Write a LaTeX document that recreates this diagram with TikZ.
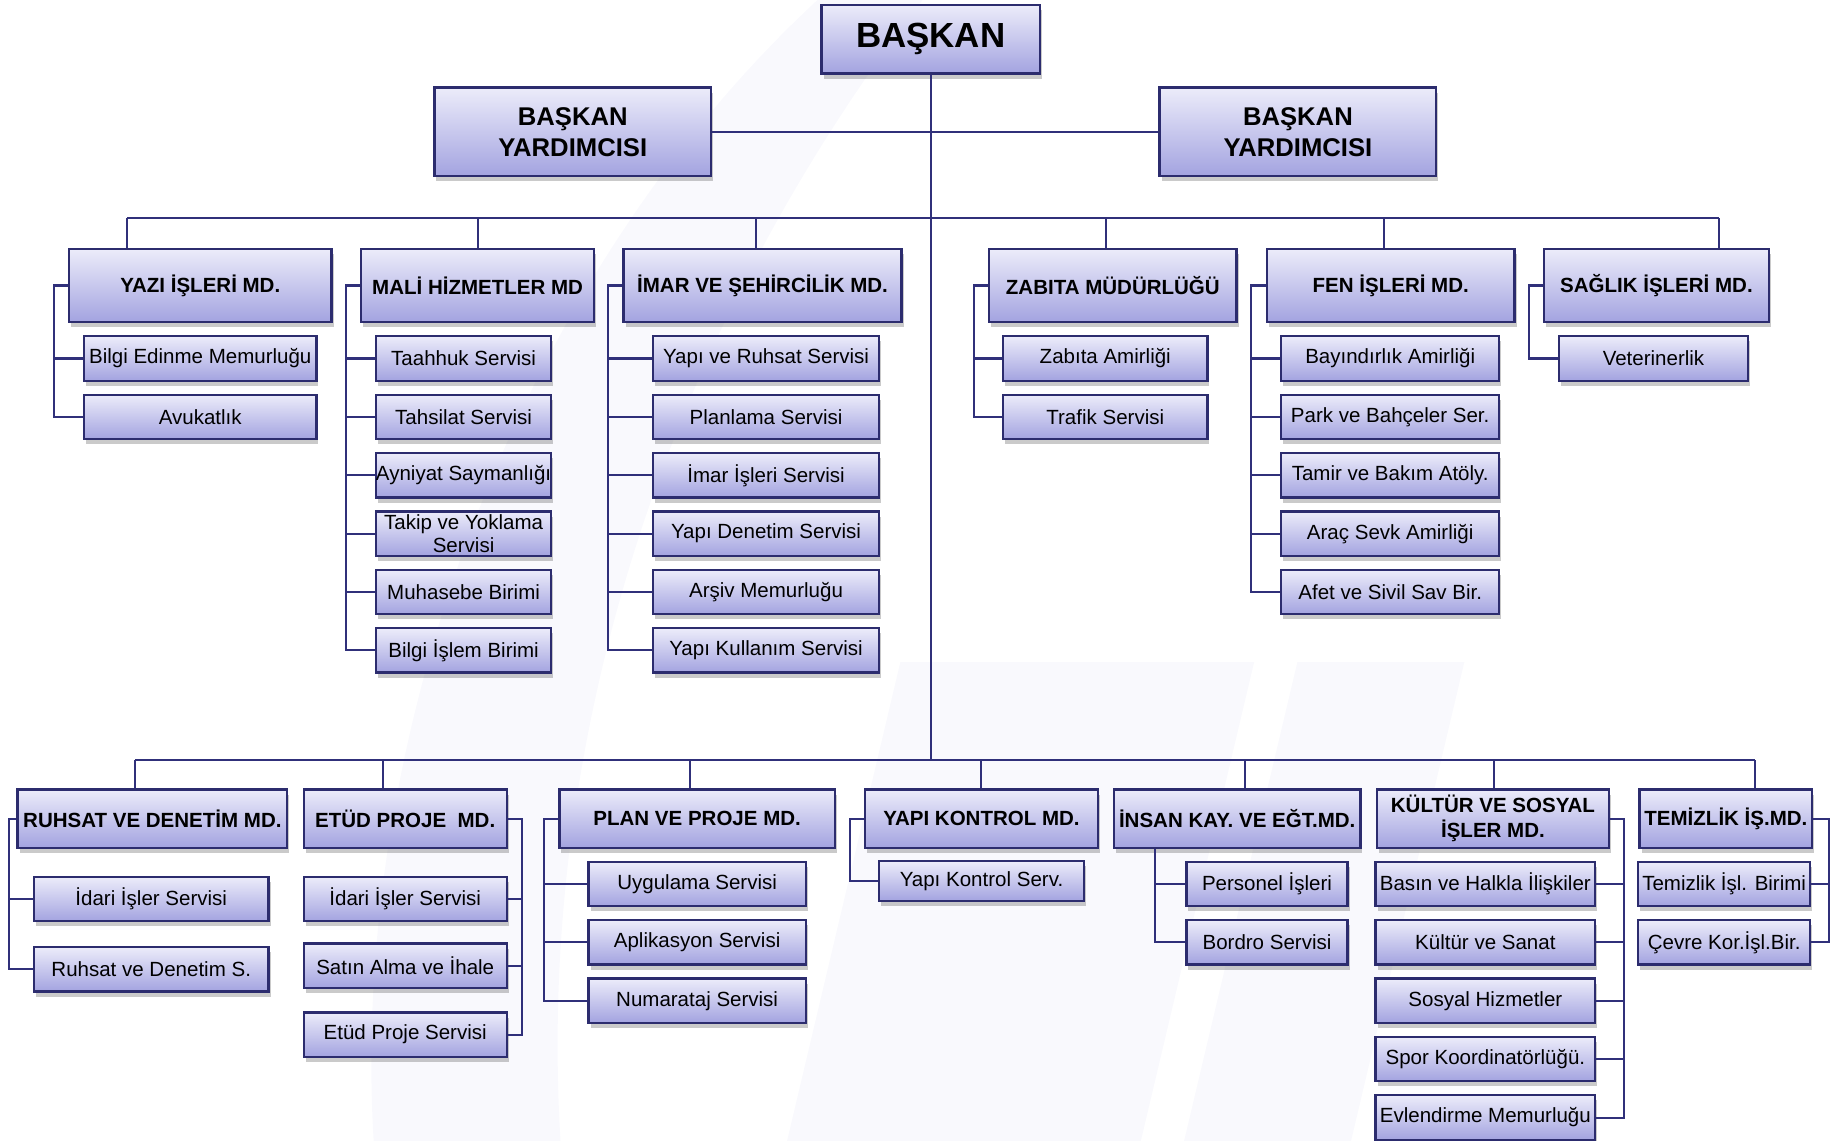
\documentclass[tikz,border=0pt]{standalone}
\usepackage{fontspec}
\setmainfont{Liberation Sans}
\usetikzlibrary{shadows}
\definecolor{boxline}{HTML}{2C2C6E}
\definecolor{linkc}{HTML}{30307A}
\definecolor{boxtop}{HTML}{ECECFA}
\definecolor{boxbot}{HTML}{A3A3E0}
\definecolor{markc}{HTML}{F9F9FD}

\begin{document}
\begin{tikzpicture}[x=0.02cm,y=-0.02cm,
  box/.style={draw=boxline,line width=1.1pt,top color=boxtop,bottom color=boxbot,
    drop shadow={shadow xshift=1pt,shadow yshift=-2.5pt,opacity=0.35,fill=black!60},
    inner sep=0pt,align=center,font=\fontsize{10}{11.5}\selectfont},
  hdr/.style={box,font=\fontsize{10}{12}\selectfont\bfseries,minimum height=1.26cm},
  hdrb/.style={box,font=\fontsize{10}{12}\selectfont\bfseries,minimum height=1.0cm},
  unit/.style={box,minimum height=0.76cm},
  link/.style={draw=linkc,line width=1pt}]
\useasboundingbox (0,0) rectangle (1568,977);

\fill[markc] (700,0) .. controls (430,250) and (300,650) .. (320,977) -- (480,977)
  .. controls (460,650) and (560,300) .. (790,0) -- cycle;
\fill[markc] (771,567) -- (1074,567) -- (977,977) -- (674,977) -- cycle;
\fill[markc] (1111,567) -- (1254,567) -- (1157,977) -- (1014,977) -- cycle;

\node[box,font=\fontsize{17}{20}\selectfont\bfseries,minimum width=3.74cm,minimum height=1.18cm]
(baskan) at (797,33.5) {BAŞKAN};
\node[box,font=\fontsize{12.5}{15}\selectfont\bfseries,minimum width=4.74cm,minimum height=1.52cm]
(yard0) at (490.5,113) {BAŞKAN\\YARDIMCISI};
\node[box,font=\fontsize{12.5}{15}\selectfont\bfseries,minimum width=4.74cm,minimum height=1.52cm]
(yard1) at (1111.5,113) {BAŞKAN\\YARDIMCISI};

\coordinate (t0) at (109,187);
\coordinate (t1) at (409,187);
\coordinate (t2) at (647,187);
\coordinate (t3) at (947,187);
\coordinate (t4) at (1185,187);
\coordinate (t5) at (1472,187);

\coordinate (b0) at (116,651);
\coordinate (b1) at (328,651);
\coordinate (b2) at (591,651);
\coordinate (b3) at (840,651);
\coordinate (b4) at (1066,651);
\coordinate (b5) at (1279,651);
\coordinate (b6) at (1503,651);

\node[hdr,minimum width=4.5cm] (yazi) at (171.5,244.5) {YAZI İŞLERİ MD.};
\node[hdr,minimum width=4.0cm] (mali) at (409,244.5) {MALİ HİZMETLER MD};
\node[hdr,minimum width=4.76cm] (imar) at (653,244.5) {İMAR VE ŞEHİRCİLİK MD.};
\node[hdr,minimum width=4.24cm] (zabita) at (953,244.5) {ZABITA MÜDÜRLÜĞÜ};
\node[hdr,minimum width=4.24cm] (fen) at (1191,244.5) {FEN İŞLERİ MD.};
\node[hdr,minimum width=3.86cm] (saglik) at (1418.5,244.5) {SAĞLIK İŞLERİ MD.};

\node[unit,minimum width=3.98cm] (yazi1) at (171.5,307) {Bilgi Edinme Memurluğu};
\node[unit,minimum width=3.98cm] (yazi2) at (171.5,357) {Avukatlık};

\node[unit,minimum width=3.0cm] (mali1) at (397,307) {Taahhuk Servisi};
\node[unit,minimum width=3.0cm] (mali2) at (397,357) {Tahsilat Servisi};
\node[unit,minimum width=3.0cm] (mali3) at (397,407) {Ayniyat Saymanlığı};
\node[unit,minimum width=3.0cm] (mali4) at (397,457) {Takip ve Yoklama\\Servisi};
\node[unit,minimum width=3.0cm] (mali5) at (397,507) {Muhasebe Birimi};
\node[unit,minimum width=3.0cm] (mali6) at (397,557) {Bilgi İşlem Birimi};

\node[unit,minimum width=3.88cm] (imar1) at (656,307) {Yapı ve Ruhsat Servisi};
\node[unit,minimum width=3.88cm] (imar2) at (656,357) {Planlama Servisi};
\node[unit,minimum width=3.88cm] (imar3) at (656,407) {İmar İşleri Servisi};
\node[unit,minimum width=3.88cm] (imar4) at (656,457) {Yapı Denetim Servisi};
\node[unit,minimum width=3.88cm] (imar5) at (656,507) {Arşiv Memurluğu};
\node[unit,minimum width=3.88cm] (imar6) at (656,557) {Yapı Kullanım Servisi};

\node[unit,minimum width=3.5cm] (zabita1) at (946.5,307) {Zabıta Amirliği};
\node[unit,minimum width=3.5cm] (zabita2) at (946.5,357) {Trafik Servisi};

\node[unit,minimum width=3.74cm] (fen1) at (1190.5,307) {Bayındırlık Amirliği};
\node[unit,minimum width=3.74cm] (fen2) at (1190.5,357) {Park ve Bahçeler Ser.};
\node[unit,minimum width=3.74cm] (fen3) at (1190.5,407) {Tamir ve Bakım Atöly.};
\node[unit,minimum width=3.74cm] (fen4) at (1190.5,457) {Araç Sevk Amirliği};
\node[unit,minimum width=3.74cm] (fen5) at (1190.5,507) {Afet ve Sivil Sav Bir.};

\node[unit,minimum width=3.24cm] (saglik1) at (1416,307) {Veterinerlik};

\node[hdrb,minimum width=4.62cm] (ruhsat) at (130.5,701) {RUHSAT VE DENETİM MD.};
\node[hdrb,minimum width=3.48cm] (etud) at (347,701) {ETÜD PROJE~~MD.};
\node[hdrb,minimum width=4.72cm] (plan) at (597,701) {PLAN VE PROJE MD.};
\node[hdrb,minimum width=3.98cm] (ykon) at (840.5,701) {YAPI KONTROL MD.};
\node[hdrb,minimum width=4.22cm] (insan) at (1059.5,701) {İNSAN KAY. VE EĞT.MD.};
\node[hdrb,minimum width=3.98cm] (kultur) at (1278.5,701) {KÜLTÜR VE SOSYAL\\İŞLER MD.};
\node[hdrb,minimum width=2.96cm] (temiz) at (1478,701) {TEMİZLİK İŞ.MD.};

\node[unit,minimum width=4.02cm] (ruhsat1) at (129.5,770) {İdari İşler Servisi};
\node[unit,minimum width=4.02cm] (ruhsat2) at (129.5,830) {Ruhsat ve Denetim S.};

\node[unit,minimum width=3.48cm] (etud1) at (347,770) {İdari İşler Servisi};
\node[unit,minimum width=3.48cm] (etud2) at (347,827) {Satın Alma ve İhale};
\node[unit,minimum width=3.48cm] (etud3) at (347,886) {Etüd Proje Servisi};

\node[unit,minimum width=3.72cm] (plan1) at (597,757) {Uygulama Servisi};
\node[unit,minimum width=3.72cm] (plan2) at (597,807) {Aplikasyon Servisi};
\node[unit,minimum width=3.72cm] (plan3) at (597,857) {Numarataj Servisi};

\node[unit,minimum width=3.5cm,minimum height=0.68cm] (ykon1) at (840.5,754.5) {Yapı Kontrol Serv.};

\node[unit,minimum width=2.76cm] (insan1) at (1085,757) {Personel İşleri};
\node[unit,minimum width=2.76cm] (insan2) at (1085,807) {Bordro Servisi};

\node[unit,minimum width=3.76cm] (kultur1) at (1272,757) {Basın ve Halkla İlişkiler};
\node[unit,minimum width=3.76cm] (kultur2) at (1272,807) {Kültür ve Sanat};
\node[unit,minimum width=3.76cm] (kultur3) at (1272,857) {Sosyal Hizmetler};
\node[unit,minimum width=3.76cm] (kultur4) at (1272,907) {Spor Koordinatörlüğü.};
\node[unit,minimum width=3.76cm] (kultur5) at (1272,957) {Evlendirme Memurluğu};

\node[unit,minimum width=2.94cm] (temiz1) at (1476.5,757) {Temizlik İşl. Birimi};
\node[unit,minimum width=2.94cm] (temiz2) at (1476.5,807) {Çevre Kor.İşl.Bir.};

\draw[link] (baskan.south) -- (baskan.south |- b0);
\draw[link] (yard0.east) -- (yard1.west);
\draw[link] (t0) -- (t5);
\draw[link] (b0) -- (b6);

\draw[link] (t0) -- (t0 |- yazi.north);
\draw[link] (t1) -- (t1 |- mali.north);
\draw[link] (t2) -- (t2 |- imar.north);
\draw[link] (t3) -- (t3 |- zabita.north);
\draw[link] (t4) -- (t4 |- fen.north);
\draw[link] (t5) -- (t5 |- saglik.north);

\draw[link] (b0) -- (b0 |- ruhsat.north);
\draw[link] (b1) -- (b1 |- etud.north);
\draw[link] (b2) -- (b2 |- plan.north);
\draw[link] (b3) -- (b3 |- ykon.north);
\draw[link] (b4) -- (b4 |- insan.north);
\draw[link] (b5) -- (b5 |- kultur.north);
\draw[link] (b6) -- (b6 |- temiz.north);

\foreach \i in {1,2} \draw[link] (yazi.west) -- ++(-12,0) |- (yazi\i.west);
\foreach \i in {1,...,6} \draw[link] (mali.west) -- ++(-12,0) |- (mali\i.west);
\foreach \i in {1,...,6} \draw[link] (imar.west) -- ++(-12,0) |- (imar\i.west);
\foreach \i in {1,2} \draw[link] (zabita.west) -- ++(-12,0) |- (zabita\i.west);
\foreach \i in {1,...,5} \draw[link] (fen.west) -- ++(-13,0) |- (fen\i.west);
\draw[link] (saglik.west) -- ++(-12,0) |- (saglik1.west);

\foreach \i in {1,2} \draw[link] (ruhsat.west) -- ++(-6.5,0) |- (ruhsat\i.west);
\foreach \i in {1,2,3} \draw[link] (etud.east) -- ++(12,0) |- (etud\i.east);
\foreach \i in {1,2,3} \draw[link] (plan.west) -- ++(-12,0) |- (plan\i.west);
\draw[link] (ykon.west) -- ++(-12,0) |- (ykon1.west);
\foreach \i in {1,2} \draw[link] (insan.south west) ++(36,0) |- (insan\i.west);
\foreach \i in {1,...,5} \draw[link] (kultur.east) -- ++(12,0) |- (kultur\i.east);
\foreach \i in {1,2} \draw[link] (temiz.east) -- ++(13,0) |- (temiz\i.east);

\end{tikzpicture}
\end{document}
